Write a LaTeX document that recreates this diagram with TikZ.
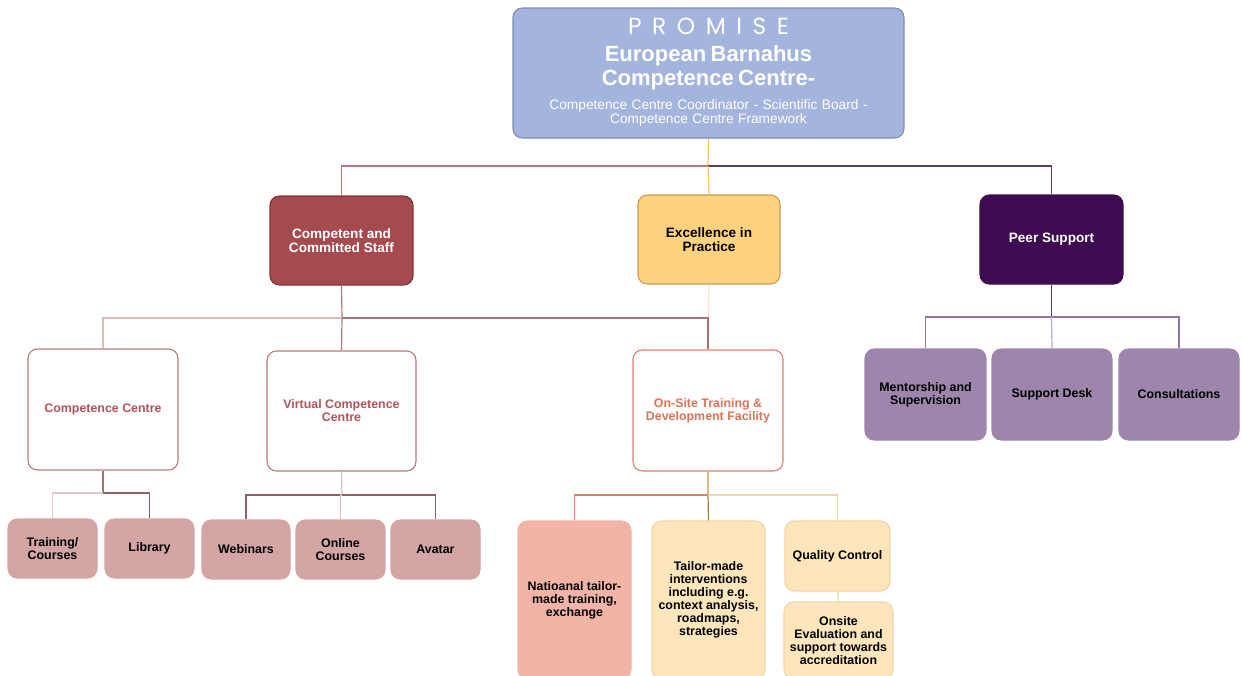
\documentclass[tikz,border=0pt]{standalone}
\usepackage{fontspec}
\setmainfont{Liberation Sans}
\newfontfamily\promisefont[LetterSpace=45]{Poppins}
\newfontfamily\arialfont{Liberation Sans}
\usepackage{xcolor}
\usepackage{tikz}
\usetikzlibrary{calc}
\usetikzlibrary{positioning}

\definecolor{topfill}{HTML}{A3B5DC}
\definecolor{topline}{HTML}{7E8DB0}
\definecolor{staffred}{HTML}{A54B4F}
\definecolor{staffline}{HTML}{7E3438}
\definecolor{excelfill}{HTML}{FFD27F}
\definecolor{excelline}{HTML}{C69D55}
\definecolor{peerfill}{HTML}{3E0B50}
\definecolor{ccline}{HTML}{B9787C}
\definecolor{cctext}{HTML}{B4535A}
\definecolor{siteline}{HTML}{DE7F6A}
\definecolor{sitetext}{HTML}{DC7256}
\definecolor{rosebox}{HTML}{D3A5A5}
\definecolor{lavbox}{HTML}{9D85AB}
\definecolor{salmonbox}{HTML}{F1B4A6}
\definecolor{creambox}{HTML}{FDE5BC}
\definecolor{creamline}{HTML}{EFD7A8}
\definecolor{purpline}{HTML}{5C3C74}

\tikzstyle{sz} = [minimum width=#1*0.75pt]
\tikzstyle{ht} = [minimum height=#1*0.75pt]
\tikzstyle{box} = [rectangle, rounded corners=7pt, align=center, inner sep=2pt, line width=0.8pt]
\tikzstyle{txt} = [font=\bfseries\fontsize{9.3}{9.8}\selectfont]
\tikzstyle{headtxt} = [font=\bfseries\fontsize{10.2}{10.6}\selectfont]
\tikzstyle{link} = [-, line width=0.9pt]

\begin{document}
\begin{tikzpicture}[x=0.75pt, y=-0.75pt]
\useasboundingbox (0,0) rectangle (1242,675);

% top
\node [box, draw=topline, fill=topfill, text=white, sz=391, ht=130, text width=380*0.75pt] (promise) at (708.5, 73) {%
  {\promisefont\fontsize{17.5}{20}\selectfont PROMISE\par}\vspace{2pt}
  {\arialfont\bfseries\fontsize{16.5}{18}\selectfont European Barnahus\\Competence Centre-\par}\vspace{6pt}
  {\arialfont\fontsize{10.3}{10.5}\selectfont Competence Centre Coordinator - Scientific Board -\\Competence Centre Framework\par}\vspace{1.5pt}};

% first level
\node [box, headtxt, draw=staffline, fill=staffred, text=white, sz=143, ht=89] (staff) at (341.5, 240.5) {Competent and\\Committed Staff};
\node [box, headtxt, draw=excelline, fill=excelfill, text=black, sz=142, ht=89] (excel) at (709, 239.5) {Excellence in\\Practice};
\node [box, headtxt, draw=peerfill, fill=peerfill, text=white, sz=143, ht=89] (peer) at (1051.5, 239.5) {Peer Support};

% second level
\node [box, txt, draw=ccline, fill=white, text=cctext, sz=150, ht=121] (cc) at (103, 409.5) {Competence Centre};
\node [box, txt, draw=ccline, fill=white, text=cctext, sz=149, ht=120] (vcc) at (341.5, 411) {Virtual Competence\\Centre};
\node [box, txt, draw=siteline, fill=white, text=sitetext, sz=150, ht=121] (onsite) at (708, 410.5) {On-Site Training \&\\Development Facility};

\node [box, txt, draw=lavbox, fill=lavbox, sz=121, ht=91] (mentor) at (925.5, 394.5) {Mentorship and\\Supervision};
\node [box, txt, draw=lavbox, fill=lavbox, sz=120, ht=91] (desk) at (1052, 394.5) {Support Desk};
\node [box, txt, draw=lavbox, fill=lavbox, sz=120, ht=91] (consult) at (1179, 394.5) {Consultations};

% third level
\node [box, txt, draw=rosebox, fill=rosebox, sz=89, ht=59] (train) at (52.5, 548.5) {Training/\\Courses};
\node [box, txt, draw=rosebox, fill=rosebox, sz=89, ht=59] (library) at (149.5, 548.5) {Library};
\node [box, txt, draw=rosebox, fill=rosebox, sz=88, ht=59] (webinar) at (246, 549.5) {Webinars};
\node [box, txt, draw=rosebox, fill=rosebox, sz=89, ht=59] (online) at (340.5, 549.5) {Online\\Courses};
\node [box, txt, draw=rosebox, fill=rosebox, sz=89, ht=59] (avatar) at (435.5, 549.5) {Avatar};

\node [box, txt, draw=salmonbox, fill=salmonbox, sz=113, ht=158] (natio) at (574.5, 600) {Natioanal tailor-\\made training,\\exchange};
\node [box, txt, draw=creamline, fill=creambox, sz=113, ht=158] (tailor) at (708.5, 600) {Tailor-made\\interventions\\including e.g.\\context analysis,\\roadmaps,\\strategies};
\node [box, txt, draw=creamline, fill=creambox, sz=105, ht=70] (quality) at (837.5, 556) {Quality Control};
\node [box, txt, draw=creamline, fill=creambox, sz=109, ht=77] (evalu) at (838.5, 640.5) {Onsite\\Evaluation and\\support towards\\accreditation};

% bus points
\coordinate (b0) at (708, 166);
\coordinate (b1) at (342, 318);
\coordinate (b2) at (1051.5, 317);
\coordinate (b3) at (103, 493);
\coordinate (b4) at (342, 495);
\coordinate (b5) at (708, 495);

\draw [link, draw=excelfill!80!orange] (promise.south) to (b0);
\draw [link, draw=ccline] (b0) -| (staff.north);
\draw [link, draw=purpline] (b0) -| (peer.north);
\draw [link, draw=excelfill!80!orange] (b0) to (excel.north);

\draw [link, draw=ccline] (staff.south) to (b1);
\draw [link, draw=ccline!50] (b1) -| (cc.north);
\draw [link, draw=ccline] (b1) to (vcc.north);
\draw [link, draw=staffline!70] (b1) -| (onsite.north);
\draw [link, draw=creamline!60] (excel.south) to ($(excel.south)!0.5!(onsite.north)$);

\draw [link, draw=purpline] (peer.south) to (b2);
\draw [link, draw=lavbox!80!purpline] (b2) -| (mentor.north);
\draw [link, draw=lavbox!70] (b2) to (desk.north);
\draw [link, draw=lavbox!80!purpline] (b2) -| (consult.north);

\draw [link, draw=staffline!70] (cc.south) to (b3);
\draw [link, draw=ccline!40] (b3) -| (train.north);
\draw [link, draw=ccline!80!black] (b3) -| (library.north);

\draw [link, draw=ccline!50] (vcc.south) to (b4);
\draw [link, draw=ccline!80!black] (b4) -| (webinar.north);
\draw [link, draw=ccline!50] (b4) -| (online.north);
\draw [link, draw=ccline!80!black] (b4) -| (avatar.north);

\draw [link, draw=excelline!70] (onsite.south) to (b5);
\draw [link, draw=siteline] (b5) -| (natio.north);
\draw [link, draw=excelline!80!black] (b5) to (tailor.north);
\draw [link, draw=creamline] (b5) -| (quality.north);
\draw [link, draw=creamline] (quality.south) to (evalu.north);
\end{tikzpicture}
\end{document}
